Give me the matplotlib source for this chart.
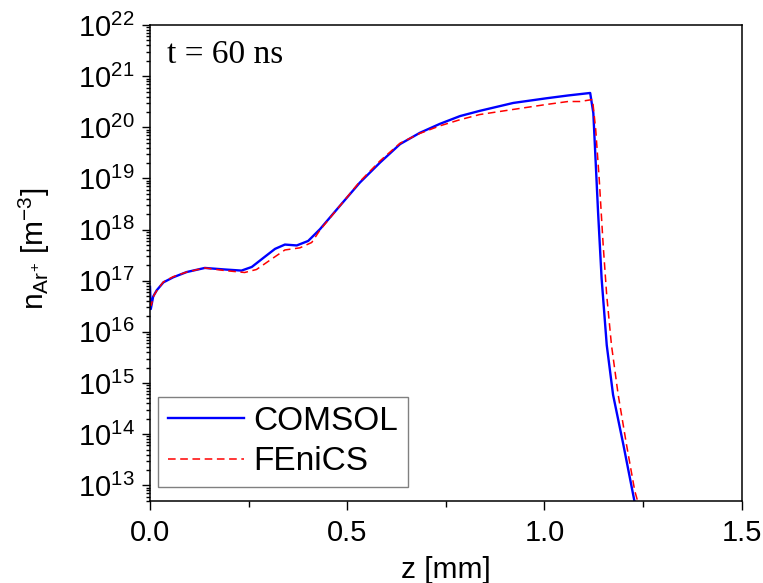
import numpy as np
import matplotlib
matplotlib.use("Agg")
import matplotlib.pyplot as plt
from matplotlib.ticker import LogLocator, FixedLocator, MultipleLocator, FormatStrFormatter, NullFormatter, LogFormatterMathtext

plt.rcParams["font.family"] = ["Liberation Sans", "DejaVu Sans"]
plt.rcParams["mathtext.fontset"] = "custom"
plt.rcParams["mathtext.rm"] = "Liberation Sans"
plt.rcParams["mathtext.it"] = "Liberation Sans:italic"

#Datos de COMSOL (z en mm, densidad en m^-3)
z_comsol = [0.000, 0.002, 0.008, 0.017, 0.034, 0.059, 0.093, 0.139, 0.190, 0.232,
            0.258, 0.290, 0.317, 0.342, 0.372, 0.401, 0.431, 0.482, 0.532, 0.583,
            0.634, 0.684, 0.735, 0.786, 0.836, 0.921, 1.005, 1.060, 1.116, 1.124,
            1.128, 1.136, 1.145, 1.158, 1.174, 1.200, 1.228]
n_comsol = [7.6e16, 2.8e16, 4.9e16, 6.5e16, 9.3e16, 1.17e17, 1.48e17, 1.78e17, 1.66e17, 1.58e17,
            1.86e17, 2.9e17, 4.2e17, 5.1e17, 4.9e17, 6.0e17, 1.02e18, 2.95e18, 8.3e18, 2.04e19,
            4.7e19, 7.8e19, 1.17e20, 1.66e20, 2.1e20, 3.0e20, 3.7e20, 4.2e20, 4.7e20, 1.9e20,
            4.3e19, 2.2e18, 1.1e17, 5.5e15, 5.9e14, 6.3e13, 5.0e12]
#Datos de FEniCS
z_fenics = [0.000, 0.003, 0.010, 0.020, 0.034, 0.059, 0.093, 0.139, 0.190, 0.240,
            0.270, 0.300, 0.342, 0.380, 0.410, 0.431, 0.482, 0.532, 0.583, 0.634,
            0.684, 0.735, 0.786, 0.836, 0.921, 1.005, 1.060, 1.090, 1.122, 1.130,
            1.139, 1.149, 1.158, 1.170, 1.187, 1.208, 1.229, 1.236]
n_fenics = [3.8e16, 3.3e16, 5.2e16, 6.9e16, 9.5e16, 1.2e17, 1.48e17, 1.78e17, 1.58e17, 1.45e17,
            1.66e17, 2.4e17, 4.0e17, 4.4e17, 5.6e17, 9.8e17, 2.95e18, 8.7e18, 2.2e19, 4.9e19,
            7.6e19, 1.07e20, 1.41e20, 1.78e20, 2.24e20, 2.8e20, 3.2e20, 3.2e20, 3.5e20, 9.1e19,
            9.5e18, 4.9e17, 5.1e16, 5.5e15, 5.9e14, 6.3e13, 7.8e12, 5.0e12]
#Ticks mayores del eje y
y_ticks = [1e13, 1e14, 1e15, 1e16, 1e17, 1e18, 1e19, 1e20, 1e21, 1e22]

fig = plt.figure(figsize=(7.63, 5.83), dpi=100)
ax = fig.add_axes([0.1966, 0.1412, 0.7754, 0.8158])

ax.plot(z_comsol, n_comsol, color="blue", lw=1.7, label="COMSOL")
ax.plot(z_fenics, n_fenics, color="red", lw=1.1, ls=(0, (5, 3)), label="FEniCS")

ax.set_yscale("log")
ax.set_xlim(0, 1.5)
ax.set_ylim(5e12, 1e22)

#Ticks
ax.xaxis.set_major_locator(MultipleLocator(0.5))
ax.xaxis.set_minor_locator(MultipleLocator(0.25))
ax.xaxis.set_major_formatter(FormatStrFormatter("%.1f"))
ax.yaxis.set_major_locator(FixedLocator(y_ticks))
ax.yaxis.set_major_formatter(LogFormatterMathtext())
ax.yaxis.set_minor_locator(LogLocator(base=10, subs=np.arange(2, 10), numticks=100))
ax.yaxis.set_minor_formatter(NullFormatter())
ax.tick_params(which="both", direction="out", top=False, right=False, width=1.0, labelsize=21)
ax.tick_params(axis="x", which="major", length=6.5, pad=7)
ax.tick_params(axis="x", which="minor", length=4)
ax.tick_params(axis="y", which="major", length=6, pad=5)
ax.tick_params(axis="y", which="minor", length=3)
for s in ax.spines.values():
    s.set_linewidth(1.1)

ax.set_xlabel("z [mm]", fontsize=21.5, labelpad=6)
ax.set_ylabel(r"n$_{\mathrm{Ar}^{+}}$ [m$^{-3}$]", fontsize=21.5)
ax.yaxis.set_label_coords(-0.165, 0.53)

ax.text(0.028, 0.920, "t = 60 ns", transform=ax.transAxes, fontsize=24,
        family="Liberation Serif", ha="left", va="baseline")

#Leyenda
leg = ax.legend(loc="lower left", bbox_to_anchor=(0.0140, 0.0298), borderaxespad=0,
                fontsize=24, fancybox=False, edgecolor="gray", framealpha=1,
                handlelength=2.3, handletextpad=0.28, borderpad=0.28, labelspacing=0.28)
leg.get_frame().set_linewidth(1.0)

plt.savefig("out.png", dpi=100)
